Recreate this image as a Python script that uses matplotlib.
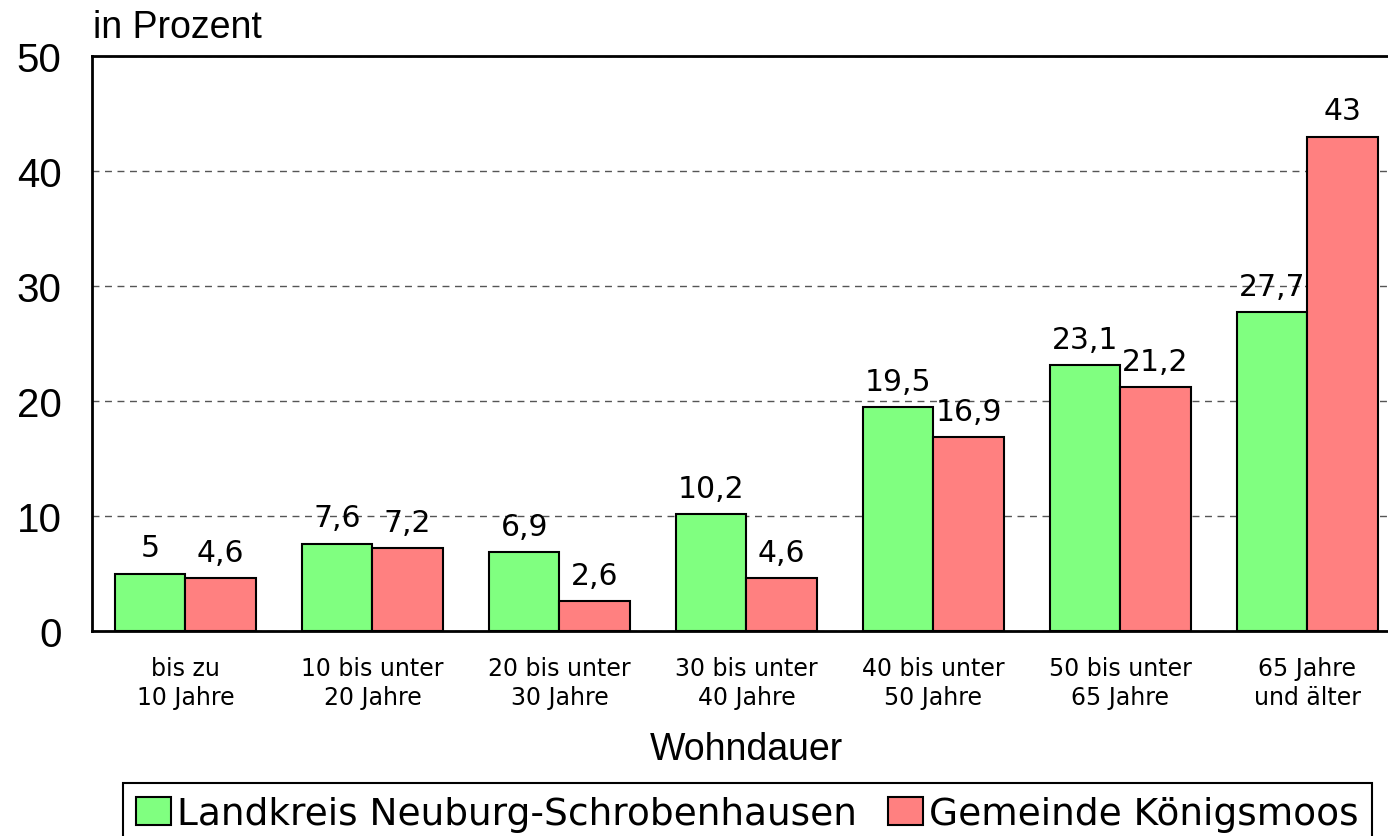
import numpy as np
import matplotlib
matplotlib.use("Agg")
from matplotlib import pyplot as plt

categories = ["bis zu\n10 Jahre", "10 bis unter\n20 Jahre", "20 bis unter\n30 Jahre",
              "30 bis unter\n40 Jahre", "40 bis unter\n50 Jahre", "50 bis unter\n65 Jahre",
              "65 Jahre\nund älter"]
landkreis = [5, 7.6, 6.9, 10.2, 19.5, 23.1, 27.7]
gemeinde = [4.6, 7.2, 2.6, 4.6, 16.9, 21.2, 43]
series_names = ["Landkreis Neuburg-Schrobenhausen", "Gemeinde Königsmoos"]

fig = plt.figure(figsize=(13.88, 8.37), dpi=100)
ax = fig.add_axes([92/1388, 1-632/837, (1401-92)/1388, (632-57)/837])

x = np.arange(len(categories))
w = 0.375
b1 = ax.bar(x - w/2, landkreis, w, color="#80ff80", edgecolor="black", linewidth=1.5,
            label=series_names[0], zorder=3)
b2 = ax.bar(x + w/2, gemeinde, w, color="#ff8080", edgecolor="black", linewidth=1.5,
            label=series_names[1], zorder=3)

def fmt(v):
    s = f"{v:g}"
    return s.replace(".", ",")

for bars, vals in [(b1, landkreis), (b2, gemeinde)]:
    for r, v in zip(bars, vals):
        ax.annotate(fmt(v), (r.get_x() + r.get_width()/2, v), xytext=(0, 8),
                    textcoords="offset points", ha="center", va="bottom",
                    fontsize=21.5, family="DejaVu Sans", zorder=4)

ax.set_xlim(-0.5, 6.5)
ax.set_ylim(0, 50)
ax.set_yticks([0, 10, 20, 30, 40, 50])
ax.tick_params(axis="y", length=0, pad=22, labelsize=29)
for lab in ax.get_yticklabels():
    lab.set_family("Liberation Sans")
ax.set_xticks(x)
ax.set_xticklabels(categories, fontsize=17, family="DejaVu Sans", linespacing=1.25)
ax.tick_params(axis="x", length=0, pad=18)

ax.yaxis.grid(True, linestyle=(0, (5, 4)), color="#555555", linewidth=1, zorder=0)
for s in ax.spines.values():
    s.set_linewidth(2)

ax.set_xlabel("Wohndauer", fontsize=27, family="Liberation Sans", labelpad=16)
fig.text(93/1388, 1-38/837, "in Prozent", fontsize=27, family="Liberation Sans",
         ha="left", va="baseline")

leg = fig.legend(loc="upper left", bbox_to_anchor=(123/1388, 1-784/837), ncol=2,
                 prop={"family": "DejaVu Sans", "size": 27},
                 handlelength=0.93, handleheight=0.75, handletextpad=0.15,
                 columnspacing=0.85, borderpad=0.35, borderaxespad=0,
                 fancybox=False, edgecolor="black", framealpha=1)
leg.get_frame().set_linewidth(1.5)

fig.savefig("out.png", dpi=100)
